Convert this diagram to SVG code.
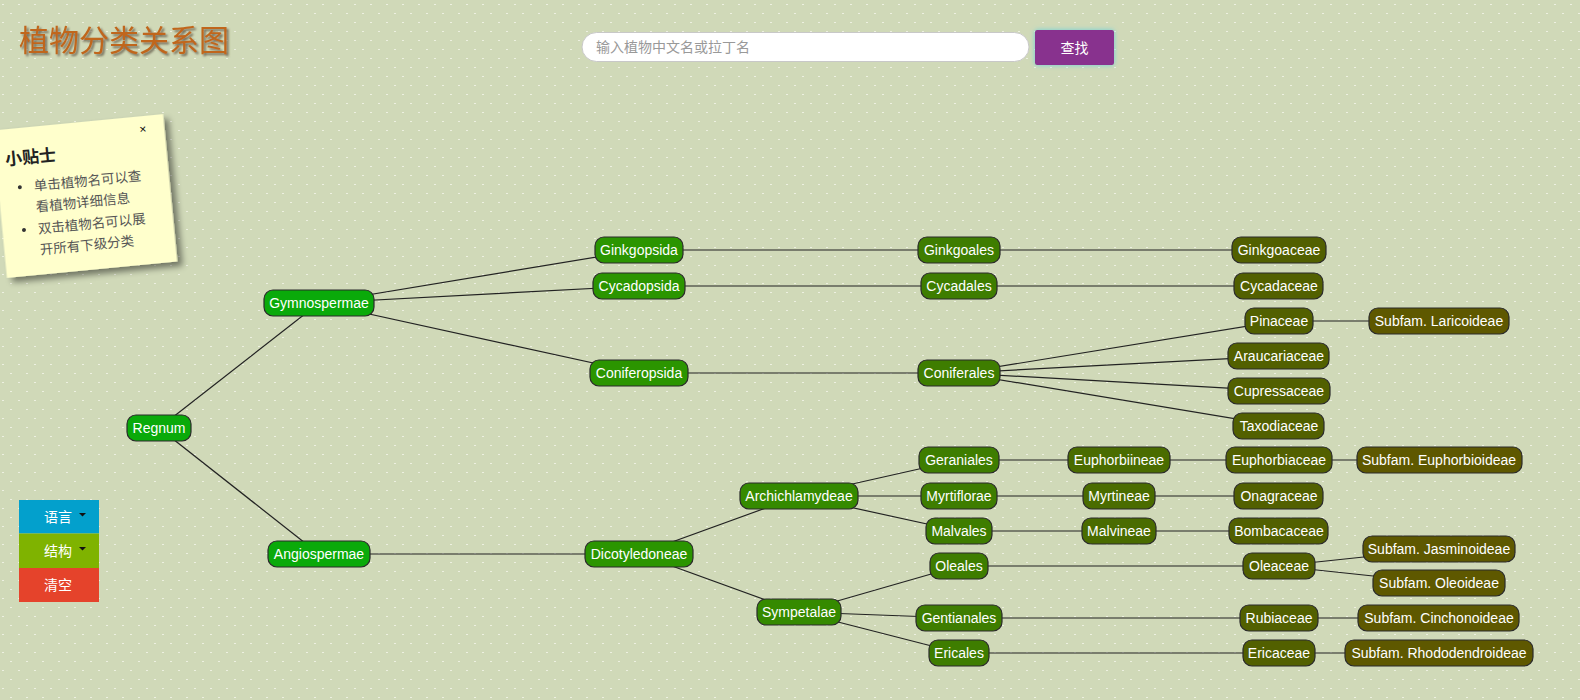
<svg xmlns="http://www.w3.org/2000/svg" width="1580" height="700" viewBox="0 0 1580 700">
<defs>
<pattern id="dots" width="16" height="18" patternUnits="userSpaceOnUse">
<rect x="2" y="4" width="2" height="1" fill="#edf0e0"/>
<rect x="10" y="13" width="2" height="1" fill="#edf0e0"/>
</pattern>
<filter id="shadow" x="-20%" y="-20%" width="150%" height="150%">
<feDropShadow dx="5" dy="5" stdDeviation="3" flood-color="#000" flood-opacity="0.45"/>
</filter>
<filter id="tshadow" x="-10%" y="-30%" width="120%" height="160%">
<feDropShadow dx="2" dy="2" stdDeviation="1" flood-color="#5a5040" flood-opacity="0.8"/>
</filter>
<filter id="glow" x="-20%" y="-30%" width="140%" height="160%">
<feDropShadow dx="0" dy="0" stdDeviation="2.5" flood-color="#5fd0e0" flood-opacity="0.9"/>
</filter>
</defs>
<style>
.node rect{stroke:#2a2a2a;stroke-width:1.2}
.node text{font-family:"Liberation Sans",Arial,sans-serif;font-size:14px;fill:#fff;text-anchor:middle}
.k rect{fill:#0aaa0a}
.c rect{fill:#2b9500}
.sc rect{fill:#358a00}
.o rect{fill:#3e7d00}
.so rect{fill:#4a6c00}
.f rect{fill:#526000}
.sf rect{fill:#5e5800}
#connectors line{stroke:#222;stroke-width:1.2}
.cjk{font-family:"Noto Sans CJK SC","Noto Sans",sans-serif}
.btn text{font-family:"Noto Sans CJK SC",sans-serif;font-size:14px;fill:#fff;text-anchor:middle}
</style>
<rect width="1580" height="700" fill="#d0d9b8"/>
<rect width="1580" height="700" fill="url(#dots)"/>

<g id="title">
<text x="19" y="51" class="cjk" font-size="30" fill="#c0661a" filter="url(#tshadow)">植物分类关系图</text>
</g>

<g id="search">
<rect x="582" y="32.5" width="447" height="29" rx="14.5" fill="#fff" stroke="#c8c8c8" stroke-width="1"/>
<text x="596" y="52" class="cjk" font-size="14" fill="#999">输入植物中文名或拉丁名</text>
<rect x="1035" y="30" width="79" height="35" rx="2" fill="#88308e" filter="url(#glow)"/>
<text x="1074.5" y="53" class="cjk" font-size="14" fill="#fff" text-anchor="middle">查找</text>
</g>

<g id="tips" transform="rotate(-5.5 85 196)">
<rect x="-0.5" y="122" width="171" height="148" fill="#ffffcc" filter="url(#shadow)"/>
<text x="149" y="139" font-family="Liberation Sans,sans-serif" font-size="12" fill="#111" text-anchor="middle">×</text>
<text x="9" y="158" font-family="Noto Sans CJK SC,serif" font-size="17" font-weight="bold" fill="#222">小贴士</text>
<circle cx="21" cy="181" r="2" fill="#333"/>
<circle cx="21" cy="224" r="2" fill="#333"/>
<g class="cjk" font-size="13.5" fill="#555">
<text x="35" y="186">单击植物名可以查</text>
<text x="35" y="207">看植物详细信息</text>
<text x="35" y="229">双击植物名可以展</text>
<text x="35" y="250">开所有下级分类</text>
</g>
</g>

<g id="menu" class="btn">
<rect x="19" y="500" width="80" height="33.5" fill="#03a0cc"/>
<text x="58" y="522">语言</text>
<path d="M79 513 L86 513 L82.5 516.5 Z" fill="#111"/>
<rect x="19" y="533.5" width="80" height="34.5" fill="#7fb300"/>
<text x="58" y="556">结构</text>
<path d="M79 547 L86 547 L82.5 550.5 Z" fill="#111"/>
<rect x="19" y="568" width="80" height="34" fill="#e5432b"/>
<text x="58" y="590">清空</text>
</g>

<g id="connectors">
<line x1="159" y1="428" x2="319" y2="303"/>
<line x1="159" y1="428" x2="319" y2="554"/>
<line x1="319" y1="303" x2="639" y2="250"/>
<line x1="319" y1="303" x2="639" y2="286"/>
<line x1="319" y1="303" x2="639" y2="373"/>
<line x1="639" y1="250" x2="959" y2="250"/>
<line x1="639" y1="286" x2="959" y2="286"/>
<line x1="639" y1="373" x2="959" y2="373"/>
<line x1="959" y1="250" x2="1279" y2="250"/>
<line x1="959" y1="286" x2="1279" y2="286"/>
<line x1="959" y1="373" x2="1279" y2="321"/>
<line x1="959" y1="373" x2="1279" y2="356"/>
<line x1="959" y1="373" x2="1279" y2="391"/>
<line x1="959" y1="373" x2="1279" y2="426"/>
<line x1="1279" y1="321" x2="1439" y2="321"/>
<line x1="319" y1="554" x2="639" y2="554"/>
<line x1="639" y1="554" x2="799" y2="496"/>
<line x1="639" y1="554" x2="799" y2="612"/>
<line x1="799" y1="496" x2="959" y2="460"/>
<line x1="799" y1="496" x2="959" y2="496"/>
<line x1="799" y1="496" x2="959" y2="531"/>
<line x1="959" y1="460" x2="1119" y2="460"/>
<line x1="1119" y1="460" x2="1279" y2="460"/>
<line x1="1279" y1="460" x2="1439" y2="460"/>
<line x1="959" y1="496" x2="1119" y2="496"/>
<line x1="1119" y1="496" x2="1279" y2="496"/>
<line x1="959" y1="531" x2="1119" y2="531"/>
<line x1="1119" y1="531" x2="1279" y2="531"/>
<line x1="799" y1="612" x2="959" y2="566"/>
<line x1="799" y1="612" x2="959" y2="618"/>
<line x1="799" y1="612" x2="959" y2="653"/>
<line x1="959" y1="566" x2="1279" y2="566"/>
<line x1="1279" y1="566" x2="1439" y2="549"/>
<line x1="1279" y1="566" x2="1439" y2="583"/>
<line x1="959" y1="618" x2="1279" y2="618"/>
<line x1="1279" y1="618" x2="1439" y2="618"/>
<line x1="959" y1="653" x2="1279" y2="653"/>
<line x1="1279" y1="653" x2="1439" y2="653"/>
</g>

<g id="n-regnum" class="node k"><rect x="127" y="415" width="64" height="26" rx="9"/><text x="159" y="433">Regnum</text></g>
<g id="n-gymnospermae" class="node k"><rect x="264" y="290" width="110" height="26" rx="9"/><text x="319" y="308">Gymnospermae</text></g>
<g id="n-angiospermae" class="node k"><rect x="268" y="541" width="102" height="26" rx="9"/><text x="319" y="559">Angiospermae</text></g>

<g id="n-ginkgopsida" class="node c"><rect x="595" y="237" width="88" height="26" rx="9"/><text x="639" y="255">Ginkgopsida</text></g>
<g id="n-cycadopsida" class="node c"><rect x="593" y="273" width="92" height="26" rx="9"/><text x="639" y="291">Cycadopsida</text></g>
<g id="n-coniferopsida" class="node c"><rect x="590" y="360" width="98" height="26" rx="9"/><text x="639" y="378">Coniferopsida</text></g>
<g id="n-dicotyledoneae" class="node c"><rect x="585" y="541" width="108" height="26" rx="9"/><text x="639" y="559">Dicotyledoneae</text></g>

<g id="n-archichlamydeae" class="node sc"><rect x="740" y="483" width="118" height="26" rx="9"/><text x="799" y="501">Archichlamydeae</text></g>
<g id="n-sympetalae" class="node sc"><rect x="757" y="599" width="84" height="26" rx="9"/><text x="799" y="617">Sympetalae</text></g>

<g id="n-ginkgoales" class="node o"><rect x="918" y="237" width="82" height="26" rx="9"/><text x="959" y="255">Ginkgoales</text></g>
<g id="n-cycadales" class="node o"><rect x="921" y="273" width="76" height="26" rx="9"/><text x="959" y="291">Cycadales</text></g>
<g id="n-coniferales" class="node o"><rect x="918" y="360" width="82" height="26" rx="9"/><text x="959" y="378">Coniferales</text></g>
<g id="n-geraniales" class="node o"><rect x="919" y="447" width="80" height="26" rx="9"/><text x="959" y="465">Geraniales</text></g>
<g id="n-myrtiflorae" class="node o"><rect x="921" y="483" width="76" height="26" rx="9"/><text x="959" y="501">Myrtiflorae</text></g>
<g id="n-malvales" class="node o"><rect x="926" y="518" width="66" height="26" rx="9"/><text x="959" y="536">Malvales</text></g>
<g id="n-oleales" class="node o"><rect x="930" y="553" width="58" height="26" rx="9"/><text x="959" y="571">Oleales</text></g>
<g id="n-gentianales" class="node o"><rect x="916" y="605" width="86" height="26" rx="9"/><text x="959" y="623">Gentianales</text></g>
<g id="n-ericales" class="node o"><rect x="929" y="640" width="60" height="26" rx="9"/><text x="959" y="658">Ericales</text></g>

<g id="n-euphorbiineae" class="node so"><rect x="1068" y="447" width="102" height="26" rx="9"/><text x="1119" y="465">Euphorbiineae</text></g>
<g id="n-myrtineae" class="node so"><rect x="1083" y="483" width="72" height="26" rx="9"/><text x="1119" y="501">Myrtineae</text></g>
<g id="n-malvineae" class="node so"><rect x="1082" y="518" width="74" height="26" rx="9"/><text x="1119" y="536">Malvineae</text></g>

<g id="n-ginkgoaceae" class="node f"><rect x="1232" y="237" width="94" height="26" rx="9"/><text x="1279" y="255">Ginkgoaceae</text></g>
<g id="n-cycadaceae" class="node f"><rect x="1234" y="273" width="89" height="26" rx="9"/><text x="1279" y="291">Cycadaceae</text></g>
<g id="n-pinaceae" class="node f"><rect x="1245" y="308" width="68" height="26" rx="9"/><text x="1279" y="326">Pinaceae</text></g>
<g id="n-araucariaceae" class="node f"><rect x="1228" y="343" width="101" height="26" rx="9"/><text x="1279" y="361">Araucariaceae</text></g>
<g id="n-cupressaceae" class="node f"><rect x="1228" y="378" width="102" height="26" rx="9"/><text x="1279" y="396">Cupressaceae</text></g>
<g id="n-taxodiaceae" class="node f"><rect x="1233" y="413" width="91" height="26" rx="9"/><text x="1279" y="431">Taxodiaceae</text></g>
<g id="n-euphorbiaceae" class="node f"><rect x="1226" y="447" width="106" height="26" rx="9"/><text x="1279" y="465">Euphorbiaceae</text></g>
<g id="n-onagraceae" class="node f"><rect x="1234" y="483" width="89" height="26" rx="9"/><text x="1279" y="501">Onagraceae</text></g>
<g id="n-bombacaceae" class="node f"><rect x="1229" y="518" width="99" height="26" rx="9"/><text x="1279" y="536">Bombacaceae</text></g>
<g id="n-oleaceae" class="node f"><rect x="1243" y="553" width="72" height="26" rx="9"/><text x="1279" y="571">Oleaceae</text></g>
<g id="n-rubiaceae" class="node f"><rect x="1240" y="605" width="78" height="26" rx="9"/><text x="1279" y="623">Rubiaceae</text></g>
<g id="n-ericaceae" class="node f"><rect x="1243" y="640" width="72" height="26" rx="9"/><text x="1279" y="658">Ericaceae</text></g>

<g id="n-laricoideae" class="node sf"><rect x="1369" y="308" width="140" height="26" rx="9"/><text x="1439" y="326">Subfam. Laricoideae</text></g>
<g id="n-euphorbioideae" class="node sf"><rect x="1357" y="447" width="165" height="26" rx="9"/><text x="1439" y="465">Subfam. Euphorbioideae</text></g>
<g id="n-jasminoideae" class="node sf"><rect x="1363" y="536" width="152" height="26" rx="9"/><text x="1439" y="554">Subfam. Jasminoideae</text></g>
<g id="n-oleoideae" class="node sf"><rect x="1373" y="570" width="132" height="26" rx="9"/><text x="1439" y="588">Subfam. Oleoideae</text></g>
<g id="n-cinchonoideae" class="node sf"><rect x="1358" y="605" width="161" height="26" rx="9"/><text x="1439" y="623">Subfam. Cinchonoideae</text></g>
<g id="n-rhododendroideae" class="node sf"><rect x="1345" y="640" width="188" height="26" rx="9"/><text x="1439" y="658">Subfam. Rhododendroideae</text></g>
</svg>
